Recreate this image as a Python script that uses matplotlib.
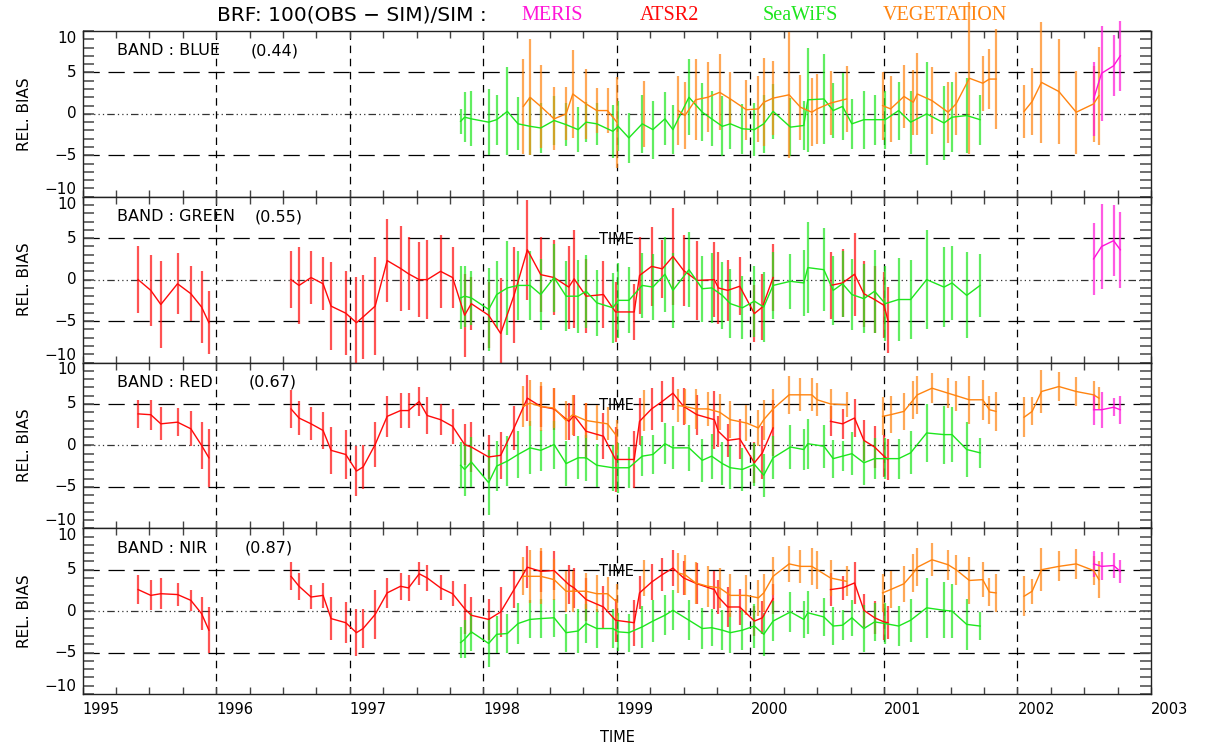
import numpy as np
import matplotlib
matplotlib.use("Agg")
import matplotlib.pyplot as plt

nan = np.nan

# ---------------- data ----------------
BANDS = ["BLUE", "GREEN", "RED", "NIR"]
BAND_WL = ["(0.44)", "(0.55)", "(0.67)", "(0.87)"]
YEARS = [1995, 1996, 1997, 1998, 1999, 2000, 2001, 2002, 2003]
Y_TICKS = [-10, -5, 0, 5, 10]

MERIS_T = [2002.57, 2002.63, 2002.72, 2002.77]
MERIS_BLUE = [1.8, 4.9, 5.8, 7.0]
MERIS_BLUE_ERR = [4.5, 5.7, 3.7, 4.2]
MERIS_GREEN = [2.5, 4.0, 4.7, 3.6]
MERIS_GREEN_ERR = [4.3, 5.1, 4.3, 4.6]
MERIS_RED = [4.3, 4.3, 4.6, 4.3]
MERIS_RED_ERR = [1.9, 2.2, 1.1, 1.7]
MERIS_NIR = [5.7, 5.4, 5.5, 4.8]
MERIS_NIR_ERR = [1.6, 1.7, 1.5, 1.4]

ATSR2_T = [1995.415, 1995.51, 1995.585, 1995.71, 1995.81, 1995.89, 1995.945, nan,
           1996.56, 1996.62, 1996.71, 1996.80, 1996.86, 1996.97, 1997.05, 1997.10, 1997.19, 1997.28,
           1997.38, 1997.44, 1997.52, 1997.58, 1997.68, 1997.77, 1997.86, 1997.91, 1998.04, 1998.13,
           1998.23, 1998.33, 1998.43, 1998.53, 1998.64, 1998.68, 1998.77, 1998.90, 1998.99, 1999.13,
           1999.17, 1999.26, 1999.34, 1999.42, 1999.50, 1999.60, 1999.73, 1999.76, 1999.83, 1999.92,
           2000.03, 2000.09, 2000.17, nan,
           2000.60, 2000.69, 2000.78, 2000.85, 2000.93, 2001.00, 2001.03]
ATSR2_GREEN = [0.0, -1.3, -3.0, -0.5, -1.7, -3.3, -5.2, nan,
               0.0, -0.7, 0.25, -0.5, -3.2, -4.05, -5.2, -4.5, -3.2, 2.3,
               1.35, 0.7, 0.0, 0.0, 1.0, 0.25, -4.3, -2.9, -4.3, -6.5,
               -1.9, 3.6, 0.6, 0.25, -0.9, 0.1, -2.0, -1.8, -3.9, -3.9,
               0.5, 1.6, 1.3, 2.8, 1.1, -0.1, 0.0, -1.0, -1.3, -0.8,
               -4.1, -3.3, 0.25, nan,
               -0.7, -0.4, 0.65, -1.7, -2.4, -3.1, -4.9]
ATSR2_GREEN_ERR = [4.0, 4.3, 5.2, 3.7, 3.3, 4.3, 3.8, nan,
                   3.4, 4.6, 3.2, 3.2, 5.3, 5.1, 5.5, 5.1, 5.9, 5.0,
                   5.1, 4.4, 4.5, 4.8, 4.4, 3.7, 5.0, 3.2, 4.0, 6.7,
                   5.8, 6.0, 4.5, 4.5, 5.0, 5.9, 4.5, 4.0, 3.6, 3.4,
                   4.7, 4.8, 3.5, 5.9, 4.3, 4.8, 4.5, 4.3, 3.7, 3.5,
                   3.4, 4.0, 4.0, nan,
                   4.0, 4.1, 5.0, 4.0, 4.0, 4.0, 4.0]
ATSR2_RED = [3.8, 3.7, 2.6, 2.8, 2.0, 0.0, -1.5, nan,
             4.4, 3.3, 2.6, 1.8, -0.6, -1.1, -3.1, -2.6, 0.1, 3.5,
             4.2, 4.2, 5.3, 3.6, 3.1, 2.3, 0.1, -0.2, -1.4, -1.2,
             2.1, 5.7, 4.7, 4.4, 2.9, 3.6, 1.7, 1.1, -1.7, -1.7,
             2.9, 4.4, 5.3, 6.3, 4.7, 3.7, 3.1, 1.7, 0.6, 0.8,
             -2.1, -0.9, 2.1, nan,
             2.9, 2.6, 3.3, 0.6, -0.2, -1.3, -1.7]
ATSR2_RED_ERR = [1.7, 1.8, 2.0, 1.7, 2.1, 2.8, 3.5, nan,
                 2.3, 2.0, 2.0, 2.2, 2.8, 2.9, 3.0, 2.7, 2.7, 2.5,
                 2.1, 2.1, 1.8, 2.2, 1.9, 2.1, 2.5, 3.0, 2.7, 2.8,
                 2.7, 2.8, 2.5, 2.5, 2.2, 2.5, 3.4, 2.8, 3.9, 3.4,
                 2.8, 2.5, 2.5, 2.0, 2.2, 2.4, 3.5, 1.9, 2.0, 2.4,
                 2.5, 3.2, 3.4, nan,
                 1.8, 1.8, 2.3, 2.5, 2.5, 2.5, 2.5]
ATSR2_NIR = [2.6, 1.9, 2.1, 2.0, 1.3, -0.3, -2.3, nan,
             4.2, 3.0, 1.7, 1.9, -0.9, -1.4, -2.6, -2.1, -0.4, 2.2,
             3.0, 2.8, 4.5, 4.0, 2.8, 2.1, 0.3, -0.5, -1.0, -0.1,
             2.6, 5.3, 4.8, 4.9, 3.2, 2.8, 1.4, 0.5, -1.1, -1.4,
             2.2, 3.5, 4.4, 5.2, 4.0, 3.3, 2.6, 1.7, 0.5, 0.5,
             -1.2, -0.8, 1.5, nan,
             2.6, 2.8, 3.4, 0.1, -0.8, -1.3, -1.4]
ATSR2_NIR_ERR = [1.8, 1.8, 1.9, 1.4, 1.3, 2.0, 2.8, nan,
                 1.7, 1.6, 1.4, 1.5, 2.6, 2.5, 2.8, 2.4, 3.0, 1.8,
                 1.6, 1.6, 1.4, 1.6, 1.5, 1.5, 3.0, 2.2, 2.5, 3.0,
                 2.2, 2.5, 2.5, 2.3, 2.4, 2.4, 2.6, 2.5, 2.6, 2.8,
                 2.0, 2.2, 2.0, 2.2, 2.0, 2.5, 2.3, 2.0, 2.4, 2.2,
                 1.8, 2.0, 1.8, nan,
                 2.0, 1.4, 2.5, 2.0, 2.0, 2.2, 2.0]

SEAWIFS_T = [1997.83, 1997.86, 1997.91, 1998.04, 1998.10, 1998.18, 1998.26, 1998.35, 1998.43, 1998.53,
             1998.62, 1998.71, 1998.77, 1998.85, 1998.97, 1999.01, 1999.09, 1999.19, 1999.27, 1999.36,
             1999.42, 1999.54, 1999.64, 1999.71, 1999.79, 1999.85, 1999.94, 2000.03, 2000.10, 2000.17,
             2000.30, 2000.40, 2000.43, 2000.55, 2000.62, 2000.69, 2000.76, 2000.85, 2000.93, 2001.01,
             2001.11, 2001.20, 2001.32, 2001.45, 2001.51, 2001.62, 2001.72]
SEAWIFS_BLUE = [-0.9, -0.4, -0.6, -1.0, -0.7, 0.3, -1.2, -1.5, -1.7, -0.8,
                -1.3, -1.9, -1.0, -1.2, -2.1, -1.5, -2.9, -1.2, -1.9, -0.6,
                -1.9, 2.0, 0.2, -0.6, -1.5, -1.2, -1.8, -1.9, -1.2, 0.3,
                -1.6, -1.4, 1.7, 1.8, 0.4, 0.9, -1.2, -0.7, -0.7, -0.7,
                0.4, -1.0, 0.0, -1.1, -0.4, -0.2, -0.7]
SEAWIFS_BLUE_ERR = [1.5, 3.0, 3.3, 4.0, 3.0, 5.3, 3.2, 3.5, 3.0, 3.0,
                    2.6, 2.7, 2.4, 2.5, 3.2, 3.0, 3.0, 3.5, 3.5, 3.2,
                    3.0, 4.6, 3.5, 3.3, 3.6, 3.0, 3.0, 3.2, 3.5, 3.3,
                    3.5, 3.0, 6.3, 5.4, 3.3, 4.0, 3.0, 3.5, 3.0, 3.5,
                    3.5, 3.8, 6.2, 4.5, 4.2, 4.5, 3.0]
SEAWIFS_GREEN = [-2.2, -2.0, -2.2, -3.6, -1.8, -1.0, -0.7, -0.7, -1.8, 0.25,
                 -2.0, -2.0, -1.4, -2.8, -3.4, -2.5, -2.5, -0.7, -0.9, 0.65,
                 -1.3, 1.2, -1.1, -1.0, -1.9, -2.9, -3.4, -2.6, -3.3, -0.7,
                 -0.2, -0.4, 1.45, 1.2, -1.3, -0.5, -1.8, -2.3, -1.4, -2.9,
                 -2.4, -2.4, 0.0, -0.9, -0.4, -1.9, -0.7]
SEAWIFS_GREEN_ERR = [3.8, 3.7, 3.3, 5.0, 4.0, 5.7, 4.2, 4.2, 4.3, 4.1,
                     4.2, 4.4, 4.4, 4.0, 4.2, 4.5, 4.0, 3.9, 4.0, 4.5,
                     4.5, 4.5, 4.0, 4.2, 4.0, 4.2, 3.8, 4.3, 4.2, 4.0,
                     3.3, 4.0, 5.5, 5.0, 4.2, 4.0, 4.3, 4.2, 5.0, 4.5,
                     5.0, 4.8, 6.0, 4.8, 4.5, 5.2, 3.8]
SEAWIFS_RED = [-2.4, -2.9, -2.0, -4.5, -2.5, -1.9, -1.1, -0.3, -0.6, 0.1,
               -2.2, -1.5, -1.5, -2.4, -2.7, -2.7, -2.7, -1.3, -1.1, 0.2,
               -0.3, -0.3, -1.8, -1.3, -2.2, -2.7, -2.9, -2.3, -3.6, -1.5,
               -0.2, -0.5, 0.2, -0.1, -1.6, -1.3, -1.0, -2.1, -1.6, -1.6,
               -1.6, -0.9, 1.5, 1.3, 1.3, -0.5, -0.9]
SEAWIFS_RED_ERR = [2.8, 3.2, 3.0, 3.9, 3.0, 3.0, 2.8, 3.2, 2.5, 2.9,
                   2.7, 2.6, 2.8, 2.6, 2.8, 3.0, 2.5, 2.4, 2.3, 2.5,
                   2.6, 2.8, 2.6, 2.7, 2.6, 2.6, 2.6, 2.6, 2.6, 2.6,
                   2.6, 2.5, 3.0, 2.6, 2.3, 1.8, 2.6, 2.7, 2.5, 2.5,
                   2.4, 2.6, 3.5, 3.5, 3.3, 3.3, 1.8]
SEAWIFS_NIR = [-3.8, -3.4, -2.5, -3.9, -2.8, -2.7, -1.5, -1.0, -0.9, -0.8,
               -2.6, -2.4, -1.5, -2.1, -2.1, -2.5, -2.6, -1.9, -1.2, -0.5,
               0.1, -1.1, -2.1, -2.0, -2.3, -2.6, -2.3, -1.8, -2.8, -1.2,
               -0.1, -1.0, -0.2, -0.7, -1.8, -1.7, -0.8, -2.1, -1.3, -1.5,
               -1.8, -1.1, 0.4, 0.1, 0.0, -1.6, -1.8]
SEAWIFS_NIR_ERR = [1.9, 2.3, 2.3, 2.9, 2.2, 2.4, 2.5, 2.3, 2.4, 2.3,
                   2.3, 2.6, 2.3, 2.3, 2.3, 2.3, 2.3, 2.5, 2.5, 2.4,
                   2.4, 2.4, 2.5, 2.2, 2.4, 2.4, 2.4, 2.6, 2.6, 2.4,
                   2.4, 2.2, 2.6, 2.3, 2.3, 1.8, 2.2, 2.8, 2.3, 2.5,
                   2.4, 2.6, 3.6, 3.4, 3.3, 3.1, 1.7]

VGT_T = [1998.30, 1998.35, 1998.43, 1998.53, 1998.62, 1998.67, 1998.77, 1998.85, 1998.93, 1999.00,
         nan, 1999.20, nan, 1999.46, 1999.51, 1999.59, 1999.68, 1999.77, 1999.85, 1999.97,
         2000.06, 2000.10, 2000.17, 2000.29, 2000.375, 2000.46, 2000.50, 2000.60, 2000.72, nan,
         2000.99, 2001.05, 2001.15, 2001.22, 2001.25, 2001.36, 2001.48, 2001.54, 2001.64, 2001.74,
         2001.79, 2001.84, nan, 2002.05, 2002.11, 2002.18, 2002.31, 2002.44, 2002.57, 2002.61]
VGT_BLUE = [0.9, 2.0, 0.9, -0.6, 0.0, 2.4, 1.2, 0.4, 0.4, -1.0,
            nan, 0.0, nan, 0.4, -0.2, 1.7, 2.0, 2.6, 1.8, 0.5,
            0.6, 1.4, 1.9, 2.3, 0.8, 0.2, 0.6, 1.3, 1.8, nan,
            1.0, 0.6, 2.1, 1.4, 2.4, 1.6, 0.2, 1.2, 4.3, 3.7,
            4.2, 4.2, nan, 0.3, 1.5, 3.8, 2.7, 0.2, 1.2, 2.2]
VGT_BLUE_ERR = [5.7, 7.0, 5.0, 3.8, 3.2, 5.3, 4.2, 2.7, 2.7, 5.5,
                nan, 4.0, nan, 4.2, 4.0, 4.9, 4.2, 4.6, 3.2, 3.6,
                4.0, 5.3, 4.5, 7.6, 3.9, 4.1, 4.2, 3.9, 4.0, nan,
                4.1, 4.0, 3.8, 3.9, 5.0, 4.0, 3.7, 3.8, 9.2, 3.3,
                3.6, 6.0, nan, 3.2, 4.0, 7.3, 6.3, 5.0, 4.6, 5.9]
VGT_RED = [4.7, 5.1, 4.7, 4.5, 3.0, 3.7, 3.0, 2.8, 2.6, 1.1,
           nan, 4.2, nan, 4.8, 4.7, 4.4, 4.4, 4.0, 3.1, 2.7,
           2.1, 3.1, 4.4, 6.1, 6.1, 6.1, 5.5, 5.0, 4.9, nan,
           3.5, 3.7, 4.1, 5.5, 6.1, 6.9, 6.3, 6.0, 5.5, 5.5,
           4.3, 4.1, nan, 3.4, 4.1, 6.5, 7.1, 6.5, 6.1, 5.7]
VGT_RED_ERR = [2.5, 2.8, 3.0, 2.4, 2.4, 2.4, 2.1, 2.1, 2.0, 2.0,
               nan, 2.5, nan, 2.0, 2.1, 2.4, 2.1, 2.2, 2.2, 2.2,
               2.2, 2.4, 2.4, 2.3, 2.0, 2.0, 2.0, 1.8, 1.5, nan,
               2.3, 2.2, 2.2, 2.3, 2.3, 1.8, 1.8, 1.8, 2.9, 2.4,
               1.7, 2.4, nan, 2.4, 1.7, 2.6, 1.8, 1.7, 1.7, 1.3]
VGT_NIR = [4.2, 4.2, 4.2, 3.8, 2.4, 2.4, 2.4, 2.1, 2.1, 1.1,
           nan, 4.0, nan, 4.6, 4.4, 3.4, 3.0, 2.8, 1.9, 1.9,
           1.6, 2.2, 4.2, 5.7, 5.4, 5.4, 5.0, 4.0, 3.6, nan,
           2.2, 2.6, 3.3, 4.6, 5.3, 6.2, 5.6, 5.0, 3.7, 3.8,
           2.3, 2.2, nan, 1.8, 2.4, 5.0, 5.4, 5.7, 4.9, 3.8]
VGT_NIR_ERR = [2.3, 3.2, 3.4, 2.5, 2.5, 2.5, 2.2, 2.2, 2.0, 2.2,
               nan, 2.2, nan, 2.4, 2.4, 2.5, 2.5, 2.4, 2.6, 2.4,
               2.2, 2.3, 2.3, 2.2, 2.0, 2.2, 2.3, 2.2, 1.8, nan,
               2.3, 2.2, 2.2, 2.3, 2.3, 2.0, 1.8, 1.8, 2.8, 2.1,
               1.7, 2.3, nan, 2.4, 1.5, 2.6, 1.8, 1.8, 1.7, 2.2]

# per band: (values, errors) for each sensor, None where not shown
ATSR2 = [None, (ATSR2_GREEN, ATSR2_GREEN_ERR), (ATSR2_RED, ATSR2_RED_ERR), (ATSR2_NIR, ATSR2_NIR_ERR)]
SEAWIFS = [(SEAWIFS_BLUE, SEAWIFS_BLUE_ERR), (SEAWIFS_GREEN, SEAWIFS_GREEN_ERR),
           (SEAWIFS_RED, SEAWIFS_RED_ERR), (SEAWIFS_NIR, SEAWIFS_NIR_ERR)]
VGT = [(VGT_BLUE, VGT_BLUE_ERR), None, (VGT_RED, VGT_RED_ERR), (VGT_NIR, VGT_NIR_ERR)]
MERIS = [(MERIS_BLUE, MERIS_BLUE_ERR), (MERIS_GREEN, MERIS_GREEN_ERR),
         (MERIS_RED, MERIS_RED_ERR), (MERIS_NIR, MERIS_NIR_ERR)]

C_MERIS = "#ff14d8"
C_ATSR2 = "#ff0a0a"
C_SEAWIFS = "#1ee61e"
C_VGT = "#ff8410"


def draw_series(ax, t, y, e, color):
    t = np.asarray(t, float)
    y = np.asarray(y, float)
    e = np.asarray(e, float)
    ok = np.isfinite(y)
    ax.vlines(t[ok], y[ok] - e[ok], y[ok] + e[ok], colors=color, lw=1.6,
              alpha=0.7, clip_on=False, zorder=3)
    ax.plot(t, y, color=color, lw=1.0, zorder=4)


def tick_text(v):
    return str(v).replace("-", "\u2212")


# ---------------- figure ----------------
W, H = 1215, 749
fig = plt.figure(figsize=(W / 100, H / 100), dpi=100)

x0, x1 = 82.7 / W, 1151 / W
y_top, y_bot = 1 - 31 / H, 1 - 694 / H
ph = (y_top - y_bot) / 4
lab_dx = -6 / (1151 - 82.7)   # y tick labels, axes fraction

axes = []
for i in range(4):
    ax = fig.add_axes([x0, y_top - (i + 1) * ph, x1 - x0, ph])
    axes.append(ax)

for i, ax in enumerate(axes):
    ax.set_xlim(1995, 2003)
    ax.set_ylim(-10, 10)

    # reference lines
    for yy in (5, -5):
        ax.axhline(yy, color="black", lw=0.9, dashes=(13, 7), zorder=1)
    ax.axhline(0, color="#333333", lw=0.9, dashes=(6, 2.5, 1, 2.5, 1, 2.5, 1, 2.5), zorder=1)
    for yr in YEARS[1:-1]:
        ax.axvline(yr, color="black", lw=0.9, dashes=(6, 4.5), zorder=1)

    if ATSR2[i] is not None:
        draw_series(ax, ATSR2_T, ATSR2[i][0], ATSR2[i][1], C_ATSR2)
    if SEAWIFS[i] is not None:
        draw_series(ax, SEAWIFS_T, SEAWIFS[i][0], SEAWIFS[i][1], C_SEAWIFS)
    if VGT[i] is not None:
        draw_series(ax, VGT_T, VGT[i][0], VGT[i][1], C_VGT)
    if MERIS[i] is not None:
        draw_series(ax, MERIS_T, MERIS[i][0], MERIS[i][1], C_MERIS)

    # ticks
    ax.set_xticks(YEARS)
    ax.set_xticks(np.arange(1995, 2003.01, 0.25), minor=True)
    ax.set_yticks(Y_TICKS)
    ax.set_yticks(np.arange(-10, 10.1, 1), minor=True)
    ax.tick_params(axis="x", which="both", direction="in", top=True, bottom=True,
                   length=5, width=1, color="#444444")
    ax.tick_params(axis="y", which="both", direction="in", left=True, right=True,
                   length=8, width=1.2, color="#555555", labelleft=False)
    # y tick labels drawn as text so the end ones can sit inside the panel
    ytr = ax.get_yaxis_transform()
    for v in Y_TICKS:
        va = "top" if v == 10 else ("bottom" if v == -10 else "center")
        ax.text(lab_dx, v, tick_text(v), transform=ytr, ha="right", va=va, fontsize=11)

    if i < 3:
        ax.tick_params(axis="x", labelbottom=False)
    else:
        ax.set_xticklabels([str(y) for y in YEARS])
        ax.tick_params(axis="x", labelsize=10.5, pad=6)
        for lab in ax.get_xticklabels():
            lab.set_horizontalalignment("left")

    for sp in ax.spines.values():
        sp.set_linewidth(1.0)
        sp.set_color("#222222")

    # band label
    wl_x = [251, 255, 249, 245][i]
    ax.text((117 - 82.7) / (1151 - 82.7), 0.5 + 7.6 / 20, "BAND : " + BANDS[i],
            transform=ax.transAxes, fontsize=11.5, va="center", ha="left")
    ax.text((wl_x - 82.7) / (1151 - 82.7), 0.5 + 7.6 / 20, BAND_WL[i],
            transform=ax.transAxes, fontsize=11.5, va="center", ha="left")
    if i > 0:
        ax.text(1999.0, 4.8, "TIME", fontsize=10.5, ha="center", va="center", zorder=5)

    fig.text(25 / W, y_top - (i + 0.5) * ph, "REL. BIAS", rotation=90,
             fontsize=11, ha="center", va="center")

# title line
ty = 1 - 15 / H
fig.text(217 / W, ty, "BRF: 100(OBS \u2212 SIM)/SIM :", fontsize=14.5, va="center", ha="left")
for label, xpx, col in [("MERIS", 521, C_MERIS), ("ATSR2", 640, C_ATSR2),
                        ("SeaWiFS", 763, C_SEAWIFS), ("VEGETATION", 883, C_VGT)]:
    fig.text(xpx / W, ty, label, fontsize=14.5, color=col, va="center", ha="left",
             family="Liberation Serif")

fig.text(617 / W, 1 - 738 / H, "TIME", fontsize=10.5, ha="center", va="center")

fig.savefig("out.png", dpi=100)
